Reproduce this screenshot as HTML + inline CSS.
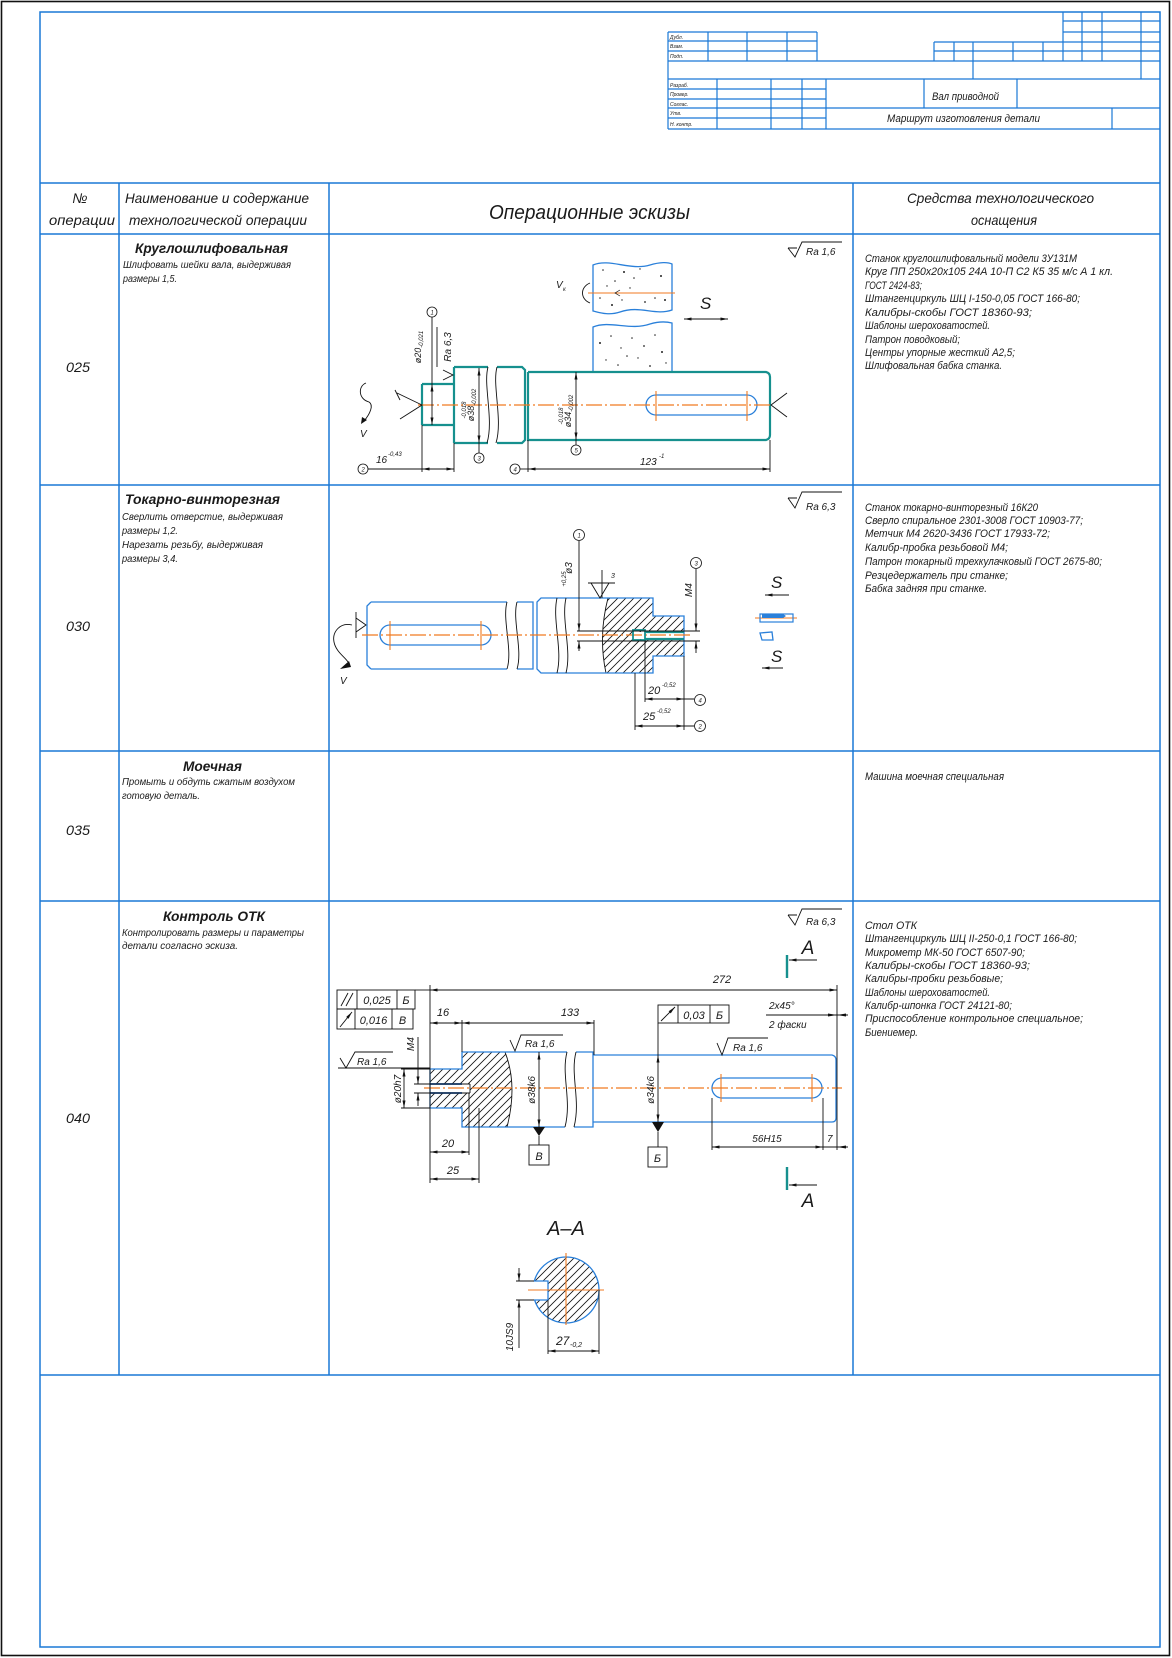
<!DOCTYPE html>
<html><head><meta charset="utf-8">
<style>
html,body{margin:0;padding:0;background:#fff}
svg{display:block}
text{font-family:"Liberation Sans","DejaVu Sans",sans-serif;font-style:italic;fill:#1a1a1a}
.b{stroke:#1a78d6;fill:none;stroke-width:1.5}
.bt{stroke:#1a78d6;fill:none;stroke-width:1.2}
.t{stroke:#16908e;fill:none;stroke-width:2.2}
.sb{stroke:#2a80da;fill:none;stroke-width:1.3}
.k{stroke:#111;fill:none;stroke-width:0.9}
.o{stroke:#f07a20;fill:none;stroke-width:1.2;stroke-dasharray:16 3 2 3}
.os{stroke:#f07a20;fill:none;stroke-width:1.1}
.d{stroke:#111;fill:none;stroke-width:0.9;marker-start:url(#ar);marker-end:url(#ar)}
.de{stroke:#111;fill:none;stroke-width:0.9;marker-end:url(#ar)}
.c{stroke:#111;fill:#fff;stroke-width:0.8}
</style></head><body>
<svg xmlns="http://www.w3.org/2000/svg" width="1172" height="1658" viewBox="0 0 1172 1658">
<defs>
<marker id="ar" viewBox="0 0 10 4" refX="10" refY="2" markerWidth="9" markerHeight="3" markerUnits="userSpaceOnUse" orient="auto-start-reverse"><path d="M0,0 L10,2 L0,4 Z" fill="#111"/></marker>
<pattern id="h" patternUnits="userSpaceOnUse" width="8" height="8"><path d="M0,8 L8,0 M-2,2 L2,-2 M6,10 L10,6" stroke="#111" stroke-width="0.8"/></pattern>
<clipPath id="cp1"><path d="M608,598 L653,598 L653,616 L684,616 L684,656 L653,656 L653,673 L606,673 C601,650 601,625 608,598 Z"/></clipPath>
<clipPath id="cp2"><path d="M430,1069 L462,1069 L462,1052 L505,1052 C514,1075 514,1100 507,1127 L462,1127 L462,1108 L430,1108 Z"/></clipPath>
<clipPath id="cp3"><path d="M534.3,1281 L548,1281 L548,1300 L534.6,1300 A33,33 0 1 0 534.3,1281 Z"/></clipPath>
</defs>
<rect width="1172" height="1658" fill="#fff"/>
<!-- outer borders -->
<rect x="1.5" y="1.5" width="1168" height="1654" fill="none" stroke="#111" stroke-width="1.6"/>
<rect x="40" y="12" width="1120" height="1635" class="b"/>
<!-- table grid -->
<path class="b" d="M40,183 H1160 M40,234 H1160 M40,485 H1160 M40,751 H1160 M40,901 H1160 M40,1375 H1160 M119,183 V1375 M329,183 V1375 M853,183 V1375"/>

<!-- title block -->
<path class="bt" d="M1063,21 H1160 M1063,32 H1160 M668,32 H817 M934,42 H1160 M668,41 H817 M934,51 H1160 M668,51 H817 M668,61 H1160 M668,79 H1160 M668,89 H826 M668,99 H826 M668,118 H826 M668,108 H1160 M668,129 H1160
M668,32 V129 M708,32 V61 M747,32 V61 M787,32 V61 M817,32 V61 M934,42 V61 M954,42 V61 M1013,42 V61 M1043,42 V61 M973,42 V79 M1063,12 V61 M1082,12 V61 M1102,12 V61 M1141,12 V79
M717,79 V129 M771,79 V129 M802,79 V129 M826,79 V129 M924,79 V108 M1017,79 V108 M1112,108 V129"/>
<g font-size="5">
<text x="670" y="39">Дубл.</text><text x="670" y="48">Взам.</text><text x="670" y="58">Подп.</text>
<text x="670" y="87">Разраб.</text><text x="670" y="96">Провер.</text><text x="670" y="106">Соглас.</text><text x="670" y="115">Утв.</text><text x="670" y="126">Н. контр.</text>
</g>
<text x="932" y="100" font-size="11" textLength="67" lengthAdjust="spacingAndGlyphs">Вал приводной</text>
<text x="887" y="122" font-size="11" textLength="153" lengthAdjust="spacingAndGlyphs">Маршрут изготовления детали</text>

<!-- header -->
<g font-size="14">
<text x="80" y="203" text-anchor="middle">№</text>
<text x="49" y="225" textLength="66" lengthAdjust="spacingAndGlyphs">операции</text>
<text x="125" y="203" textLength="184" lengthAdjust="spacingAndGlyphs">Наименование и содержание</text>
<text x="129" y="225" textLength="178" lengthAdjust="spacingAndGlyphs">технологической операции</text>
<text x="907" y="203" textLength="187" lengthAdjust="spacingAndGlyphs">Средства технологического</text>
<text x="971" y="225" textLength="66" lengthAdjust="spacingAndGlyphs">оснащения</text>
</g>
<text x="489" y="219" font-size="20" textLength="201" lengthAdjust="spacingAndGlyphs">Операционные эскизы</text>

<!-- op numbers -->
<g font-size="14">
<text x="66" y="372" textLength="24" lengthAdjust="spacingAndGlyphs">025</text>
<text x="66" y="631" textLength="24" lengthAdjust="spacingAndGlyphs">030</text>
<text x="66" y="835" textLength="24" lengthAdjust="spacingAndGlyphs">035</text>
<text x="66" y="1123" textLength="24" lengthAdjust="spacingAndGlyphs">040</text>
</g>

<!-- left column texts -->
<g font-size="14" font-weight="bold">
<text x="135" y="253" textLength="153" lengthAdjust="spacingAndGlyphs">Круглошлифовальная</text>
<text x="125" y="504" textLength="155" lengthAdjust="spacingAndGlyphs">Токарно-винторезная</text>
<text x="183" y="771" textLength="59" lengthAdjust="spacingAndGlyphs">Моечная</text>
<text x="163" y="921" textLength="102" lengthAdjust="spacingAndGlyphs">Контроль ОТК</text>
</g>
<g font-size="10">
<text x="123" y="268" textLength="168" lengthAdjust="spacingAndGlyphs">Шлифовать шейки вала, выдерживая</text>
<text x="123" y="282" textLength="54" lengthAdjust="spacingAndGlyphs">размеры 1,5.</text>
<text x="122" y="520" textLength="161" lengthAdjust="spacingAndGlyphs">Сверлить отверстие, выдерживая</text>
<text x="122" y="534" textLength="56" lengthAdjust="spacingAndGlyphs">размеры 1,2.</text>
<text x="122" y="548" textLength="141" lengthAdjust="spacingAndGlyphs">Нарезать резьбу, выдерживая</text>
<text x="122" y="562" textLength="56" lengthAdjust="spacingAndGlyphs">размеры 3,4.</text>
<text x="122" y="785" textLength="173" lengthAdjust="spacingAndGlyphs">Промыть и обдуть сжатым воздухом</text>
<text x="122" y="799" textLength="78" lengthAdjust="spacingAndGlyphs">готовую деталь.</text>
<text x="122" y="936" textLength="182" lengthAdjust="spacingAndGlyphs">Контролировать размеры и параметры</text>
<text x="122" y="949" textLength="116" lengthAdjust="spacingAndGlyphs">детали согласно эскиза.</text>
</g>

<!-- right column texts -->
<g font-size="11">
<text x="865" y="262" textLength="212" lengthAdjust="spacingAndGlyphs">Станок круглошлифовальный модели 3У131М</text>
<text x="865" y="275" textLength="248" lengthAdjust="spacingAndGlyphs">Круг ПП 250х20х105 24А 10-П С2 К5 35 м/с А 1 кл.</text>
<text x="865" y="289" textLength="57" lengthAdjust="spacingAndGlyphs">ГОСТ 2424-83;</text>
<text x="865" y="302" textLength="215" lengthAdjust="spacingAndGlyphs">Штангенциркуль ШЦ I-150-0,05 ГОСТ 166-80;</text>
<text x="865" y="316" textLength="167" lengthAdjust="spacingAndGlyphs">Калибры-скобы ГОСТ 18360-93;</text>
<text x="865" y="329" textLength="125" lengthAdjust="spacingAndGlyphs">Шаблоны шероховатостей.</text>
<text x="865" y="343" textLength="95" lengthAdjust="spacingAndGlyphs">Патрон поводковый;</text>
<text x="865" y="356" textLength="150" lengthAdjust="spacingAndGlyphs">Центры упорные жесткий А2,5;</text>
<text x="865" y="369" textLength="137" lengthAdjust="spacingAndGlyphs">Шлифовальная бабка станка.</text>

<text x="865" y="511" textLength="173" lengthAdjust="spacingAndGlyphs">Станок токарно-винторезный 16К20</text>
<text x="865" y="524" textLength="218" lengthAdjust="spacingAndGlyphs">Сверло спиральное 2301-3008 ГОСТ 10903-77;</text>
<text x="865" y="537" textLength="185" lengthAdjust="spacingAndGlyphs">Метчик М4 2620-3436 ГОСТ 17933-72;</text>
<text x="865" y="551" textLength="143" lengthAdjust="spacingAndGlyphs">Калибр-пробка резьбовой М4;</text>
<text x="865" y="565" textLength="237" lengthAdjust="spacingAndGlyphs">Патрон токарный трехкулачковый ГОСТ 2675-80;</text>
<text x="865" y="579" textLength="143" lengthAdjust="spacingAndGlyphs">Резцедержатель при станке;</text>
<text x="865" y="592" textLength="122" lengthAdjust="spacingAndGlyphs">Бабка задняя при станке.</text>

<text x="865" y="780" textLength="139" lengthAdjust="spacingAndGlyphs">Машина моечная специальная</text>

<text x="865" y="929" textLength="52" lengthAdjust="spacingAndGlyphs">Стол ОТК</text>
<text x="865" y="942" textLength="212" lengthAdjust="spacingAndGlyphs">Штангенциркуль ШЦ II-250-0,1 ГОСТ 166-80;</text>
<text x="865" y="956" textLength="160" lengthAdjust="spacingAndGlyphs">Микрометр МК-50 ГОСТ 6507-90;</text>
<text x="865" y="969" textLength="165" lengthAdjust="spacingAndGlyphs">Калибры-скобы ГОСТ 18360-93;</text>
<text x="865" y="982" textLength="138" lengthAdjust="spacingAndGlyphs">Калибры-пробки резьбовые;</text>
<text x="865" y="996" textLength="125" lengthAdjust="spacingAndGlyphs">Шаблоны шероховатостей.</text>
<text x="865" y="1009" textLength="147" lengthAdjust="spacingAndGlyphs">Калибр-шпонка ГОСТ 24121-80;</text>
<text x="865" y="1022" textLength="218" lengthAdjust="spacingAndGlyphs">Приспособление контрольное специальное;</text>
<text x="865" y="1036" textLength="53" lengthAdjust="spacingAndGlyphs">Биениемер.</text>
</g>

<!-- ================= ROW 025 SKETCH ================= -->
<path class="k" d="M788,248 L797,248 M788,248 L795,257 L802,242 L842,242"/>
<text x="806" y="255" font-size="10">Ra 1,6</text>
<!-- grinding wheel -->
<path class="sb" stroke-width="1.1" d="M593,265 C610,258 630,271 650,265 C660,262 668,262 672,264 L672,310 C655,316 640,305 620,312 C608,316 598,312 593,311 Z"/>
<path class="sb" stroke-width="1.1" d="M593,327 C610,320 630,331 650,324 C660,321 668,322 672,323 L672,372 L593,372 Z"/>
<g fill="#222">
<circle cx="603" cy="270" r="0.8"/><circle cx="615" cy="281" r="0.8"/><circle cx="624" cy="272" r="1"/><circle cx="634" cy="278" r="0.8"/><circle cx="640" cy="269" r="0.7"/><circle cx="661" cy="276" r="1"/><circle cx="600" cy="298" r="0.8"/><circle cx="612" cy="305" r="1"/><circle cx="622" cy="300" r="0.7"/><circle cx="645" cy="302" r="0.9"/><circle cx="655" cy="298" r="0.8"/><circle cx="665" cy="300" r="1"/><circle cx="630" cy="288" r="0.7"/><circle cx="607" cy="286" r="0.7"/>
<circle cx="600" cy="343" r="1"/><circle cx="611" cy="336" r="0.8"/><circle cx="621" cy="348" r="0.7"/><circle cx="632" cy="338" r="0.8"/><circle cx="644" cy="346" r="0.9"/><circle cx="655" cy="335" r="0.8"/><circle cx="662" cy="352" r="1"/><circle cx="606" cy="360" r="0.7"/><circle cx="618" cy="365" r="0.8"/><circle cx="638" cy="358" r="0.7"/><circle cx="650" cy="366" r="0.9"/><circle cx="666" cy="363" r="0.7"/><circle cx="627" cy="356" r="0.8"/>
</g>
<path class="os" d="M588,293 H675"/>
<path d="M620,290 L615,293 L620,296" fill="none" stroke="#111" stroke-width="0.7"/>
<text x="556" y="288" font-size="10" fill="#555">V</text><text x="563" y="291" font-size="6">к</text>
<path class="k" d="M590,283 C580,287 580,299 590,303"/>
<text x="700" y="309" font-size="17">S</text>
<path class="d" d="M684,319 H728"/>
<!-- shaft -->
<path class="t" d="M422,384 H454 M422,425 H454 M422,384 V425 M454,367 V443 M454,367 H488 M454,443 H488 M497,367 H522 L525,370 V440 L522,443 H497 M528,372 H766 Q770,373 770,377 V435 Q770,439 766,440 H528 V372"/>
<path class="k" d="M488,367 C483,385 494,420 487,443 M497,367 C492,385 503,420 496,443"/>
<path class="sb" d="M656,395 H747 A10,10 0 0 1 747,415 H656 A10,10 0 0 1 656,395 Z"/>
<path class="o" d="M418,405 H772"/>
<path class="os" d="M656,391 V421 M747,391 V421"/>
<!-- centers -->
<path class="k" stroke-width="1.1" d="M397,393 L422,405 L400,419 M395,390 L400,400"/>
<path class="k" stroke-width="1.1" d="M787,393 L771,405 L787,417"/>
<!-- rotation -->
<path class="k" stroke-width="1" d="M366,383 C358,386 358,399 369,402 C374,405 370,414 364,421"/>
<path d="M361,424 L362,417 L367,420 Z" fill="#111"/>
<text x="360" y="437" font-size="10" fill="#555">V</text>
<!-- dims -->
<circle class="c" cx="432" cy="312" r="5"/><text x="430.5" y="314.5" font-size="6" font-style="normal">1</text>
<path class="k" d="M432,317 V384"/><path class="d" d="M432,384 V425" />
<text transform="rotate(-90 421 347)" x="421" y="347" font-size="9" text-anchor="middle">ø20<tspan font-size="6" dy="2">-0,021</tspan></text>
<path class="k" d="M437,327 V367 M443,370 L453,375 L443,380"/>
<text transform="rotate(-90 451 347)" x="451" y="347" font-size="10" text-anchor="middle">Ra 6,3</text>
<path class="d" d="M479,368 V443"/><path class="k" d="M479,443 V453"/>
<circle class="c" cx="479" cy="458" r="5"/><text x="477.5" y="460.5" font-size="6" font-style="normal">3</text>
<text transform="rotate(-90 474 405)" x="474" y="405" font-size="9" text-anchor="middle">ø38<tspan font-size="6" dy="2">-0,002</tspan></text>
<text transform="rotate(-90 466 410)" x="466" y="410" font-size="6" text-anchor="middle">-0,018</text>
<path class="d" d="M576,372 V440"/><path class="k" d="M576,440 V445"/>
<circle class="c" cx="576" cy="450" r="5"/><text x="574.5" y="452.5" font-size="6" font-style="normal">5</text>
<text transform="rotate(-90 571 411)" x="571" y="411" font-size="9" text-anchor="middle">ø34<tspan font-size="6" dy="2">-0,002</tspan></text>
<text transform="rotate(-90 563 416)" x="563" y="416" font-size="6" text-anchor="middle">-0,018</text>
<path class="k" d="M422,425 V472 M454,443 V472 M528,440 V472 M770,440 V472 M368,469 H422"/>
<path class="d" d="M422,469 H454"/>
<circle class="c" cx="363" cy="469" r="5"/><text x="361.5" y="471.5" font-size="6" font-style="normal">2</text>
<text x="376" y="463" font-size="10">16</text><text x="388" y="456" font-size="6">-0,43</text>
<path class="k" d="M520,469 H528"/><path class="d" d="M528,469 H770"/>
<circle class="c" cx="515" cy="469" r="5"/><text x="513.5" y="471.5" font-size="6" font-style="normal">4</text>
<text x="640" y="465" font-size="10">123</text><text x="659" y="458" font-size="6">-1</text>

<!-- ================= ROW 030 SKETCH ================= -->
<path class="k" d="M788,498 L797,498 M788,498 L795,508 L802,492 L842,492"/>
<text x="806" y="510" font-size="10">Ra 6,3</text>
<!-- hatch -->
<rect x="595" y="595" width="95" height="82" fill="url(#h)" clip-path="url(#cp1)"/>
<rect x="633" y="632" width="51" height="7" fill="#fff"/>
<path class="k" d="M608,598 C601,625 601,650 606,673"/>
<path class="sb" d="M371,602 H507 M371,669 H507 M371,602 L367,606 V665 L371,669 M517,602 H533 V669 H517 M541,598 H653 V616 H684 V656 H653 V673 H541 L537,669 V602 Z"/>
<path class="k" d="M507,602 C502,620 513,650 507,669 M517,602 C512,620 523,650 517,669 M557,598 C552,620 563,650 557,673 M566,598 C561,620 572,650 566,673"/>
<path class="sb" d="M390,625 H481 A10,10 0 0 1 481,645 H390 A10,10 0 0 1 390,625 Z"/>
<path class="o" d="M362,635 H690"/>
<path class="os" d="M390,621 V650 M481,621 V650"/>
<path class="t" stroke-width="2" d="M645,632 H684 M645,639 H684"/>
<rect x="633" y="630" width="12" height="10" fill="none" stroke="#16908e" stroke-width="1.8"/>
<path class="k" d="M577,631 H700 M577,641 H700"/>
<!-- rotation -->
<path class="k" stroke-width="1" d="M352,625 C340,622 332,632 334,642 C336,652 345,657 348,662"/>
<path d="M340,669 L349,661 L351,667 Z" fill="#111"/>
<text x="340" y="684" font-size="10" fill="#555">V</text>
<path class="k" d="M356,612 V638 M356,618 L366,625 L356,632"/>
<!-- dims -->
<circle class="c" cx="579" cy="535" r="5.5"/><text x="577.5" y="537.5" font-size="6" font-style="normal">1</text>
<path class="de" d="M579,541 V631"/><path class="de" d="M579,651 V641"/>
<text transform="rotate(-90 572 568)" x="572" y="568" font-size="10" text-anchor="middle">ø3</text>
<text transform="rotate(-90 566 579)" x="566" y="579" font-size="6" text-anchor="middle">+0,25</text>
<path class="k" d="M588,583 H615 M591,583 L600,598 L609,583 M602,570 V598"/>
<text x="611" y="578" font-size="7">3</text>
<circle class="c" cx="696" cy="563" r="5.5"/><text x="694.5" y="565.5" font-size="6" font-style="normal">3</text>
<path class="de" d="M696,569 V631"/><path class="de" d="M696,653 V641"/>
<text transform="rotate(-90 692 590)" x="692" y="590" font-size="10" text-anchor="middle">M4</text>
<path class="k" d="M684,656 V730 M645,641 V702 M635,673 V730 M684,699 H694 M684,726 H694"/>
<path class="d" d="M645,699 H684"/><path class="d" d="M635,726 H684"/>
<circle class="c" cx="700" cy="700" r="5.5"/><text x="698.5" y="702.5" font-size="6" font-style="normal">4</text>
<circle class="c" cx="700" cy="726" r="5.5"/><text x="698.5" y="728.5" font-size="6" font-style="normal">2</text>
<text x="648" y="694" font-size="11">20</text><text x="662" y="687" font-size="6">-0,52</text>
<text x="643" y="720" font-size="11">25</text><text x="657" y="713" font-size="6">-0,52</text>
<!-- tools -->
<text x="771" y="588" font-size="17">S</text>
<path class="de" d="M789,595 H765"/>
<path class="os" d="M755,618 H797"/>
<rect x="760" y="614" width="33" height="8" fill="none" stroke="#2a80da" stroke-width="1.2"/>
<path d="M762,614 H783 L786,616 L783,618 H762 Z" fill="#2a80da"/>
<path d="M760,633 L772,632 L773,640 L762,640 Z" fill="none" stroke="#2a80da" stroke-width="1.3"/>
<text x="771" y="662" font-size="17">S</text>
<path class="de" d="M783,668 H762"/>

<!-- ================= ROW 040 SKETCH ================= -->
<path class="k" d="M788,915 L797,915 M788,915 L795,925 L802,909 L842,909"/>
<text x="806" y="925" font-size="10">Ra 6,3</text>
<!-- section marks -->
<path stroke="#16908e" stroke-width="2.4" d="M787,955 V978 M787,1167 V1190"/>
<path class="de" d="M817,960 H789"/><path class="de" d="M817,1185 H789"/>
<text x="808" y="954" font-size="19" font-style="normal" text-anchor="middle">A</text>
<text x="808" y="1207" font-size="19" font-style="normal" text-anchor="middle">A</text>
<!-- hatch -->
<rect x="428" y="1050" width="90" height="80" fill="url(#h)" clip-path="url(#cp2)"/>
<rect x="430" y="1084" width="40" height="9" fill="#fff"/>
<path class="k" d="M505,1052 C514,1075 514,1100 507,1127"/>
<path class="sb" d="M430,1069 H462 V1052 H567 M430,1108 H462 V1127 H565 M430,1069 V1108 M576,1052 H593 V1127 H574 M593,1055 H832 Q836,1056 836,1060 V1118 Q836,1122 832,1122 H593"/>
<path class="k" d="M567,1052 C561,1075 572,1100 565,1127 M576,1052 C570,1075 581,1100 574,1127"/>
<path stroke="#12305a" stroke-width="1.8" d="M430,1084 H462 M430,1093 H462"/>
<path class="k" d="M462,1084 H470 M462,1093 H470 M470,1084 V1093"/>
<path class="sb" d="M722,1078 H812 A10,10 0 0 1 812,1098 H722 A10,10 0 0 1 722,1078 Z"/>
<path class="o" d="M424,1088 H842"/>
<path class="os" d="M721,1074 V1102 M812,1074 V1102"/>
<!-- dims -->
<path class="k" d="M430,985 V1183 M837,985 V1150 M462,1020 V1052 M594,1020 V1055 M469,1093 V1155 M479,1108 V1183 M712,1098 V1150 M823,1098 V1150"/>
<path class="d" d="M430,990 H837"/>
<text x="722" y="983" font-size="11" text-anchor="middle">272</text>
<path class="d" d="M430,1023 H462"/><path class="d" d="M462,1023 H594"/>
<text x="443" y="1016" font-size="11" text-anchor="middle">16</text>
<text x="570" y="1016" font-size="11" text-anchor="middle">133</text>
<path class="d" d="M430,1152 H469"/><text x="448" y="1147" font-size="11" text-anchor="middle">20</text>
<path class="d" d="M430,1179 H479"/><text x="453" y="1174" font-size="11" text-anchor="middle">25</text>
<path class="k" d="M401,1069 H430 M401,1108 H430 M414,1084 H430 M414,1093 H430"/>
<path class="d" d="M404,1069 V1108"/>
<text transform="rotate(-90 401 1089)" x="401" y="1089" font-size="10" text-anchor="middle">ø20h7</text>
<path class="de" d="M418,1037 V1084"/><path class="de" d="M418,1106 V1093"/>
<text transform="rotate(-90 414 1044)" x="414" y="1044" font-size="10" text-anchor="middle">M4</text>
<!-- roughness -->
<path class="k" d="M338,1068 H430 M340,1058 L346,1068 L355,1052 H393"/>
<text x="357" y="1065" font-size="10">Ra 1,6</text>
<path class="k" d="M510,1040 L515,1051 L521,1035 H563"/>
<text x="525" y="1047" font-size="10">Ra 1,6</text>
<path class="k" d="M717,1043 L722,1055 L728,1038 H768"/>
<text x="733" y="1051" font-size="10">Ra 1,6</text>
<!-- diameters & datums -->
<path class="d" d="M539,1052 V1127"/>
<text transform="rotate(-90 535 1090)" x="535" y="1090" font-size="10" text-anchor="middle">ø38k6</text>
<path d="M533,1127 H545 L539,1136 Z" fill="#111"/>
<path class="k" d="M539,1136 V1145"/>
<rect x="529" y="1145" width="20" height="20" fill="none" stroke="#111" stroke-width="0.9"/>
<text x="539" y="1160" font-size="11" text-anchor="middle">В</text>
<path class="k" d="M658,1023 V1055"/><path class="d" d="M658,1055 V1122"/>
<text transform="rotate(-90 654 1090)" x="654" y="1090" font-size="10" text-anchor="middle">ø34k6</text>
<path d="M652,1122 H664 L658,1132 Z" fill="#111"/>
<path class="k" d="M658,1132 V1147"/>
<rect x="648" y="1147" width="19" height="20" fill="none" stroke="#111" stroke-width="0.9"/>
<text x="657.5" y="1162" font-size="11" text-anchor="middle">Б</text>
<!-- tolerance frames -->
<g fill="none" stroke="#111" stroke-width="0.9">
<rect x="658" y="1005" width="71" height="18"/><path d="M678,1005 V1023 M710,1005 V1023"/>
<rect x="337" y="990" width="78" height="19"/><path d="M357,990 V1009 M397,990 V1009"/>
<rect x="337" y="1009" width="76" height="20"/><path d="M355,1009 V1029 M392,1009 V1029"/>
<path d="M341,1006 L348,993 M346,1006 L353,993"/>
<path d="M415,990 H430"/>
</g>
<path class="de" d="M661,1021 L675,1007"/>
<path class="de" d="M340,1027 L352,1012"/>
<text x="694" y="1019" font-size="11" text-anchor="middle">0,03</text>
<text x="719.5" y="1019" font-size="11" text-anchor="middle">Б</text>
<text x="377" y="1004" font-size="11" text-anchor="middle">0,025</text>
<text x="406" y="1004" font-size="11" text-anchor="middle">Б</text>
<text x="373.5" y="1024" font-size="11" text-anchor="middle">0,016</text>
<text x="402.5" y="1024" font-size="11" text-anchor="middle">В</text>
<!-- chamfer note -->
<text x="769" y="1009" font-size="10">2х45°</text>
<path class="k" d="M766,1015 H848"/>
<path d="M837,1015 L828,1013.5 L828,1016.5 Z M837,1015 L846,1013.5 L846,1016.5 Z" fill="#111"/>
<text x="769" y="1028" font-size="10">2 фаски</text>
<path class="d" d="M712,1147 H823"/>
<path class="k" d="M823,1147 H848"/>
<path d="M837,1147 L846,1145.5 L846,1148.5 Z" fill="#111"/>
<text x="767" y="1142" font-size="10" text-anchor="middle">56H15</text>
<text x="827" y="1142" font-size="10">7</text>

<!-- section A-A -->
<text x="566" y="1235" font-size="20" font-style="normal" text-anchor="middle">A–A</text>
<rect x="530" y="1254" width="72" height="72" fill="url(#h)" clip-path="url(#cp3)"/>
<path class="sb" d="M534.3,1281 L548,1281 L548,1300 L534.6,1300 A33,33 0 1 0 534.3,1281 Z"/>
<path class="os" d="M528,1290 H604 M566,1253 V1325"/>
<path class="k" d="M516,1281 H534 M516,1300 H534 M548,1300 V1354 M599,1290 V1354"/>
<path class="de" d="M519,1268 V1281"/><path class="de" d="M519,1348 V1300"/>
<text transform="rotate(-90 513 1337)" x="513" y="1337" font-size="10" text-anchor="middle">10JS9</text>
<path class="d" d="M548,1351 H599"/>
<text x="556" y="1345" font-size="12">27</text><text x="570" y="1347" font-size="7">-0,2</text>
</svg>
</body></html>
